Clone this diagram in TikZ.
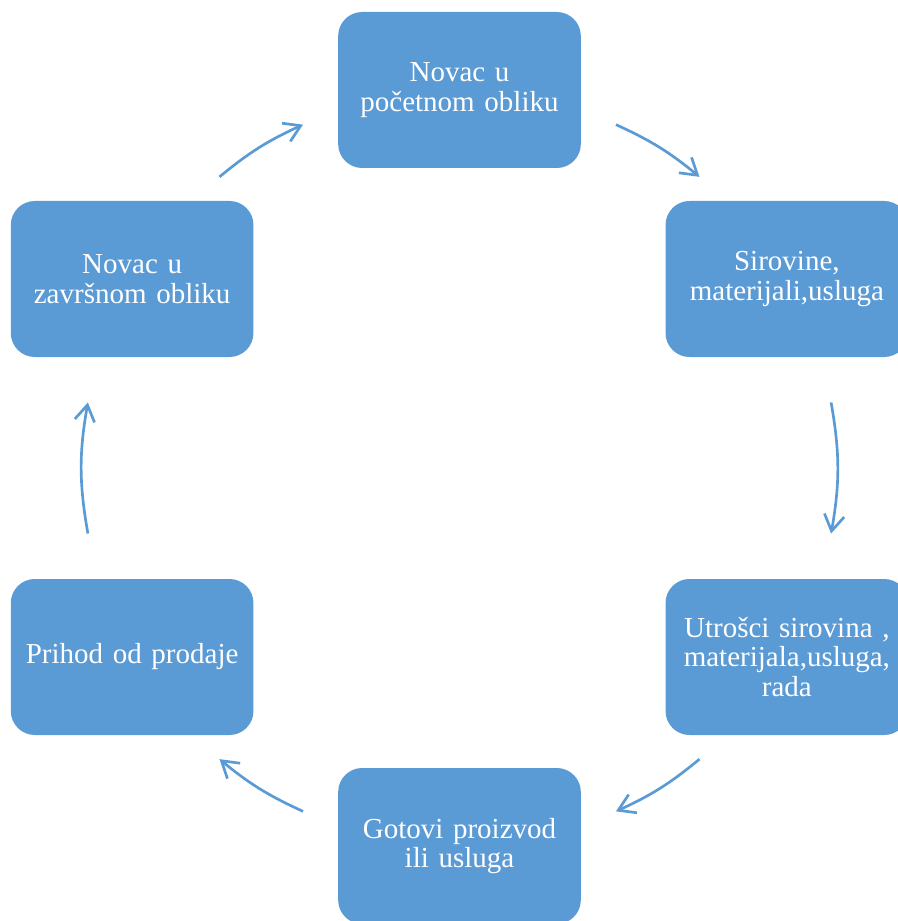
\documentclass[tikz,border=0pt]{standalone}
\usepackage{fontspec}
\setmainfont{Liberation Serif}
\usepackage{xcolor}
\usetikzlibrary{arrows.meta}
\definecolor{boxblue}{HTML}{5B9BD5}
\tikzstyle{box} = [rectangle, rounded corners=18pt, minimum width=182pt, minimum height=117pt, text width=172pt, align=center, fill=boxblue, text=white, font=\fontsize{21.75}{22}\selectfont]
\tikzstyle{arrow} = [draw=boxblue, line width=2pt, -{Straight Barb[length=12pt,width=15pt]}]

\begin{document}
\begin{tikzpicture}

\useasboundingbox (-344.625pt,-339.75pt) rectangle (328.875pt,351pt);
\clip (-344.625pt,-339.75pt) rectangle (328.875pt,351pt);

\node (1) [box] at (90:283.5pt) {Novac u\\početnom obliku};
\node (2) [box] at (30:283.5pt) {Sirovine,\\materijali,usluga};
\node (3) [box] at (-30:283.5pt) {Utrošci sirovina ,\\materijala,usluga,\\rada};
\node (4) [box] at (-90:283.5pt) {Gotovi proizvod\\ili usluga};
\node (5) [box] at (-150:283.5pt) {Prihod od prodaje};
\node (6) [box] at (150:283.5pt) {Novac u\\završnom obliku};

\coordinate (1a) at (65.5:283pt);
\coordinate (1b) at (50.5:283pt);
\coordinate (2a) at (10:283pt);
\coordinate (2b) at (-10:283pt);
\coordinate (3a) at (-50.5:283pt);
\coordinate (3b) at (-65.5:283pt);
\coordinate (4a) at (-114.5:283pt);
\coordinate (4b) at (-129.5:283pt);
\coordinate (5a) at (190:283pt);
\coordinate (5b) at (170:283pt);
\coordinate (6a) at (129.5:283pt);
\coordinate (6b) at (114.5:283pt);

\draw [arrow] (1a) to[bend left=7.5] (1b);
\draw [arrow] (2a) to[bend left=10] (2b);
\draw [arrow] (3a) to[bend left=7.5] (3b);
\draw [arrow] (4a) to[bend left=7.5] (4b);
\draw [arrow] (5a) to[bend left=10] (5b);
\draw [arrow] (6a) to[bend left=7.5] (6b);

\end{tikzpicture}
\end{document}
